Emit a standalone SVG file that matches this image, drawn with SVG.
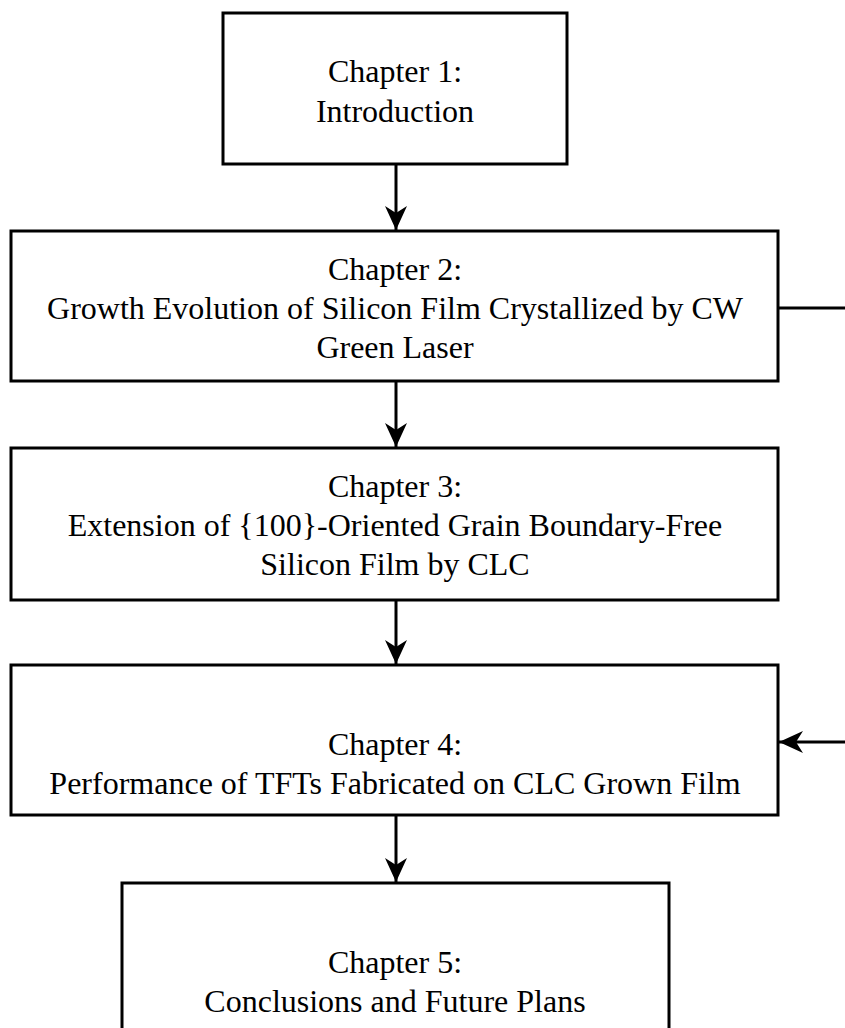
<svg xmlns="http://www.w3.org/2000/svg" width="845" height="1028" viewBox="0 0 845 1028">
<style>
.box{fill:#fff;stroke:#000;stroke-width:3}
.c{stroke:#000;stroke-width:3;fill:none}
</style>
<defs>
<marker id="ah" viewBox="0 0 24 24" refX="24" refY="12" markerWidth="24" markerHeight="24" markerUnits="userSpaceOnUse" orient="auto">
<path d="M0,1 L24,12 L0,23 L7,12 Z" fill="#000"/>
</marker>
</defs>
<rect width="845" height="1028" fill="#fff"/>
<g id="connectors">
<line class="c" x1="396" y1="164" x2="396" y2="230" marker-end="url(#ah)"/>
<line class="c" x1="396" y1="381" x2="396" y2="447" marker-end="url(#ah)"/>
<line class="c" x1="396" y1="600" x2="396" y2="664" marker-end="url(#ah)"/>
<line class="c" x1="396" y1="815" x2="396" y2="882" marker-end="url(#ah)"/>
<line class="c" x1="778" y1="308" x2="845" y2="308"/>
<line class="c" x1="845" y1="742" x2="779" y2="742" marker-end="url(#ah)"/>
</g>
<g font-family="Liberation Serif, Times New Roman, serif" font-size="32" fill="#000" text-anchor="middle">
<g id="n1">
<rect class="box" x="223" y="13" width="344" height="151"/>
<text x="395" y="82">Chapter 1:</text>
<text x="395" y="122">Introduction</text>
</g>
<g id="n2">
<rect class="box" x="11" y="231" width="767" height="150"/>
<text x="395" y="280">Chapter 2:</text>
<text x="395" y="319">Growth Evolution of Silicon Film Crystallized by CW</text>
<text x="395" y="358">Green Laser</text>
</g>
<g id="n3">
<rect class="box" x="11" y="448" width="767" height="152"/>
<text x="395" y="497">Chapter 3:</text>
<text x="395" y="536">Extension of {100}-Oriented Grain Boundary-Free</text>
<text x="395" y="575">Silicon Film by CLC</text>
</g>
<g id="n4">
<rect class="box" x="11" y="665" width="767" height="150"/>
<text x="395" y="755">Chapter 4:</text>
<text x="395" y="794">Performance of TFTs Fabricated on CLC Grown Film</text>
</g>
<g id="n5">
<rect class="box" x="122" y="883" width="547" height="160"/>
<text x="395" y="973">Chapter 5:</text>
<text x="395" y="1012">Conclusions and Future Plans</text>
</g>
</g>
</svg>
